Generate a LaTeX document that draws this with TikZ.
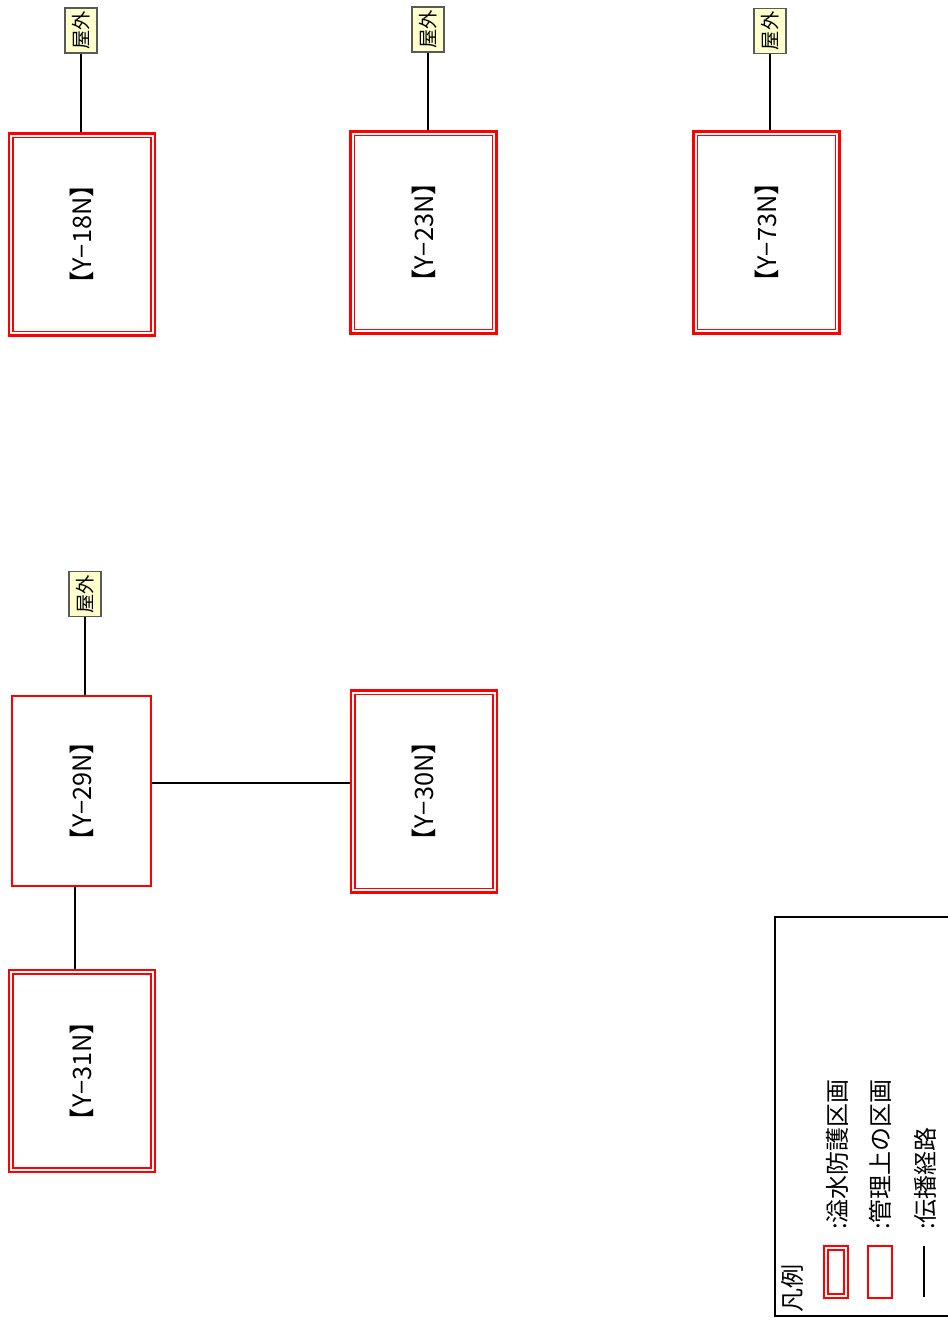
\documentclass[tikz,border=0pt]{standalone}
\usepackage{fontspec}
\setmainfont{Noto Sans CJK JP}
\definecolor{outdoorFill}{RGB}{255,255,204}
\begin{document}
\begin{tikzpicture}[x=0.75pt,y=-0.75pt,
route/.style={draw=black,line width=1.1pt},
floodZone/.style={draw=red,line width=2.2pt,inner sep=0pt,
  minimum width=109.5pt,minimum height=151.5pt,font=\fontsize{19}{19}\selectfont,
  path picture={\draw[red,line width=1.1pt]
    ([shift={(3pt,3pt)}]path picture bounding box.south west) rectangle
    ([shift={(-3pt,-3pt)}]path picture bounding box.north east);}},
mgmtZone/.style={draw=red,line width=1.5pt,inner sep=0pt,
  minimum width=104.25pt,minimum height=142.5pt,font=\fontsize{19}{19}\selectfont},
outdoor/.style={draw=black!65,fill=outdoorFill,line width=0.8pt,inner sep=0pt,
  minimum width=24pt,minimum height=33.75pt,font=\fontsize{14.5}{14.5}\selectfont},
legendText/.style={inner sep=0pt,anchor=south,font=\fontsize{18}{18}\selectfont}]
\path[use as bounding box] (0,0) rectangle (948,1320);
% zones
\node[floodZone] (y18) at (82,234.5) {\rotatebox{90}{【Y−18N】}};
\node[floodZone] (y23) at (423.5,232.5) {\rotatebox{90}{【Y−23N】}};
\node[floodZone] (y73) at (766.5,232.5) {\rotatebox{90}{【Y−73N】}};
\node[mgmtZone] (y29) at (81.5,791) {\rotatebox{90}{【Y−29N】}};
\node[floodZone] (y30) at (424,791.5) {\rotatebox{90}{【Y−30N】}};
\node[floodZone] (y31) at (82,1071) {\rotatebox{90}{【Y−31N】}};
% outdoor tags
\node[outdoor] (o18) at (81,30.5) {\rotatebox{90}{屋外}};
\node[outdoor] (o23) at (428,29.5) {\rotatebox{90}{屋外}};
\node[outdoor] (o73) at (770,30.8) {\rotatebox{90}{屋外}};
\node[outdoor] (o29) at (85,594) {\rotatebox{90}{屋外}};
% paths
\draw[route] (o18) -- (o18 |- y18.north);
\draw[route] (o23) -- (o23 |- y23.north);
\draw[route] (o73) -- (o73 |- y73.north);
\draw[route] (o29) -- (o29 |- y29.north);
\draw[route] ([yshift=6pt]y29.east) -- ([yshift=6pt]y29.east -| y30.west);
\draw[route] ([xshift=-4.9pt]y29.south) -- ([xshift=-4.9pt]y29.south |- y31.north);
% legend
\draw[black,line width=1.1pt] (960,917) -| (775,1316) -- (960,1316);
\node[inner sep=0pt,anchor=south,font=\fontsize{18}{18}\selectfont] (lgTitle) at (792,1313) {\rotatebox{90}{凡例}};
\node[floodZone,line width=1.5pt,minimum width=18pt,minimum height=39pt] (lgFlood) at (836,1272) {};
\node[mgmtZone,minimum width=18pt,minimum height=39pt] (lgMgmt) at (880,1272) {};
\coordinate (lgRouteA) at (924,1246);
\coordinate (lgRouteB) at (924,1297);
\draw[route] (lgRouteA) -- (lgRouteB);
\node[legendText] (lgFloodText) at (837,1230) {\rotatebox{90}{:溢水防護区画}};
\node[legendText] (lgMgmtText) at (880,1230) {\rotatebox{90}{:管理上の区画}};
\node[legendText] (lgRouteText) at (925,1230) {\rotatebox{90}{:伝播経路}};
\end{tikzpicture}
\end{document}
